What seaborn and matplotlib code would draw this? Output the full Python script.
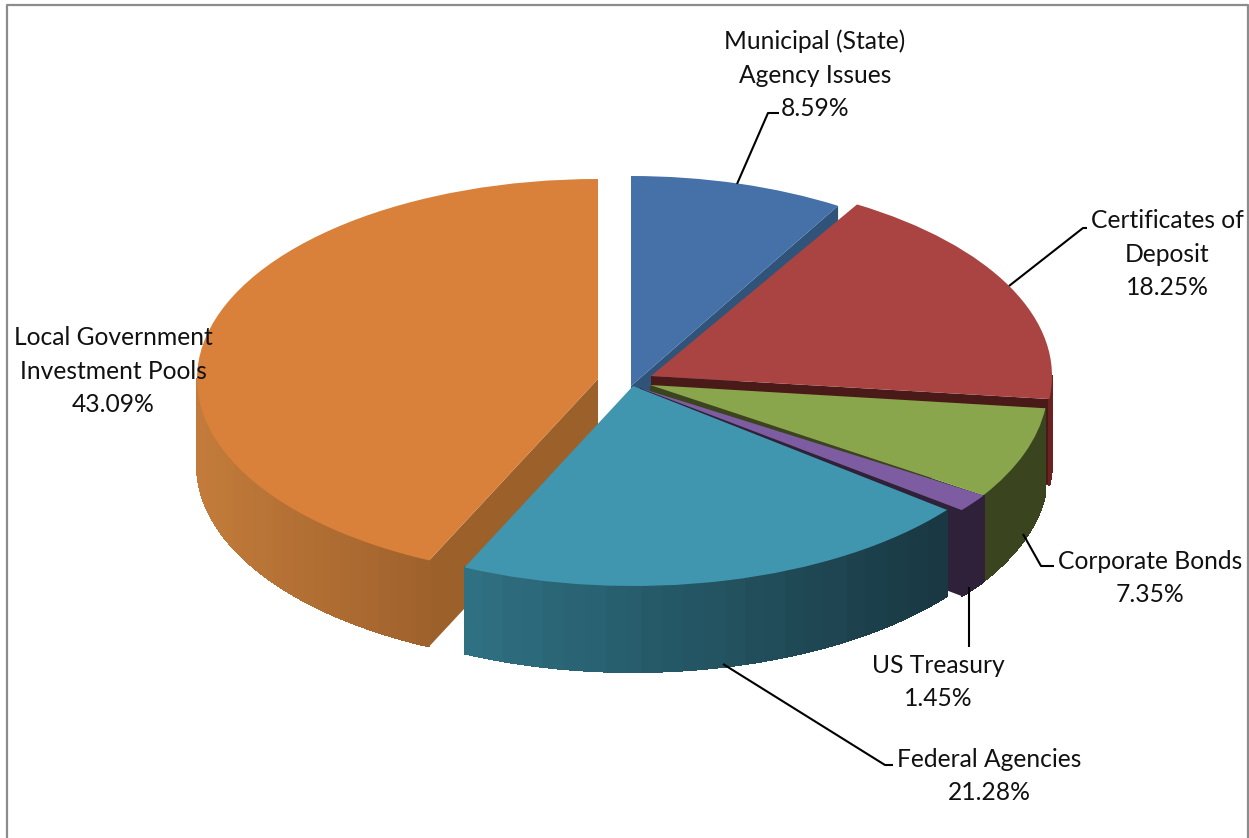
import numpy as np
import matplotlib
matplotlib.use("Agg")
import matplotlib.pyplot as plt
from matplotlib.colors import to_rgb
from matplotlib.patches import Polygon
from matplotlib.transforms import Affine2D
import seaborn as sns

# ---- data ----
labels = ["Municipal (State)\nAgency Issues", "Certificates of\nDeposit", "Corporate Bonds",
          "US Treasury", "Federal Agencies", "Local Government\nInvestment Pools"]
values = [8.59, 18.25, 7.35, 1.45, 21.28, 43.09]

# ---- styles and layout (pixels) ----
top_colors = ["#4571A8", "#A94442", "#89A64D", "#7D5CA1", "#4096AF", "#D9813B"]
cut_colors = ["#2F5379", "#4A1A18", "#3A4520", "#2E2139", "#1A3A46", "#9C602B"]
wall_left = ["#2F5379", "#6B2322", "#3A4520", "#2E2139", "#2F7082", "#C27B3A"]
wall_right = ["#2F5379", "#6B2322", "#3A4520", "#2E2139", "#183640", "#9F612C"]
geometry = [(631, 386, 403, 210), (651, 376, 401, 200), (650, 385, 398, 202),
            (640, 388, 410, 197), (633, 386, 400, 200), (598, 379, 401, 200)]
layer = [2, 3, 4, 5, 6, 1]
depth = 86
label_pos = [(815, 75), (1167, 254), (1150, 578), (938, 682), (989, 776), (113, 371)]
label_lines = {
    0: [(737, 184), (768, 113), (779, 113)],
    1: [(1009, 286), (1083, 228), (1087, 228)],
    2: [(1023, 534), (1041, 566), (1054, 566)],
    3: [(969, 587), (969, 647)],
    4: [(723, 664), (885, 765), (893, 765)],
}

W, H = 1249, 838
sns.set_theme(style="white")
plt.rcParams["font.family"] = ["Lato", "DejaVu Sans"]
fig = plt.figure(figsize=(W / 100, H / 100), dpi=100, facecolor="white")
ax = fig.add_axes([0, 0, 1, 1])

wedges, _ = ax.pie(values, startangle=90, counterclock=False, colors=top_colors, radius=1.0)
ax.set_aspect("auto")
ax.set_xlim(0, W)
ax.set_ylim(H, 0)
ax.axis("off")


def rim(g, deg):
    cx, cy, rx, ry = g
    t = np.radians(deg)
    return cx + rx * np.cos(t), cy - ry * np.sin(t)


for i, w in enumerate(wedges):
    g = geometry[i]
    z = layer[i]
    w.set_transform(Affine2D().scale(g[2], -g[3]).translate(g[0], g[1]) + ax.transData)
    w.set_zorder(z + 0.2)
    w.set_edgecolor("none")
    # visible cut face: clockwise end of the right-hand slices, clockwise start of the last one
    if i != 4:
        edge = w.theta2 if i == 5 else w.theta1
        ex, ey = rim(g, edge % 360)
        ax.add_patch(Polygon([(g[0], g[1]), (ex, ey), (ex, ey + depth), (g[0], g[1] + depth)],
                             closed=True, fc=cut_colors[i], ec="none", zorder=z))
    # outer wall: only where the rim faces the viewer (pie angles 180..360)
    a0, a1 = w.theta1 % 360, w.theta2 % 360
    if a1 <= a0:
        a1 += 360
    lo, hi = max(a0, 180), min(a1, 360)
    if hi > lo:
        n = max(int(hi - lo), 1)
        edges = np.linspace(lo, hi, n + 1)
        left_rgb = np.array(to_rgb(wall_left[i]))
        right_rgb = np.array(to_rgb(wall_right[i]))
        x_all = [rim(g, d)[0] for d in edges]
        xmin, xmax = min(x_all), max(x_all)
        for d0, d1 in zip(edges[:-1], edges[1:]):
            x0, y0 = rim(g, d0)
            x1, y1 = rim(g, d1)
            f = ((x0 + x1) / 2 - xmin) / max(xmax - xmin, 1)
            f = np.floor(f * 24) / 24
            col = left_rgb + (right_rgb - left_rgb) * f
            ax.add_patch(Polygon([(x0, y0), (x1, y1), (x1, y1 + depth), (x0, y0 + depth)],
                                 closed=True, fc=col, ec=col, lw=0.8, antialiased=False,
                                 zorder=z + 0.1))

for i, (lab, v) in enumerate(zip(labels, values)):
    x, y = label_pos[i]
    ax.text(x, y, f"{lab}\n{v:.2f}%", ha="center", va="center", multialignment="center",
            fontsize=17.7, color="#111111", linespacing=1.55, zorder=20)
    if i in label_lines:
        xs, ys = zip(*label_lines[i])
        ax.plot(xs, ys, color="black", lw=1.5, zorder=19, solid_capstyle="butt")

# chart frame
ax.plot([7, 7, 1248, 1248], [H, 5, 5, H], color="#8C8C8C", lw=1.6, zorder=25, clip_on=False)

fig.savefig("out.png", dpi=100, facecolor="white")
